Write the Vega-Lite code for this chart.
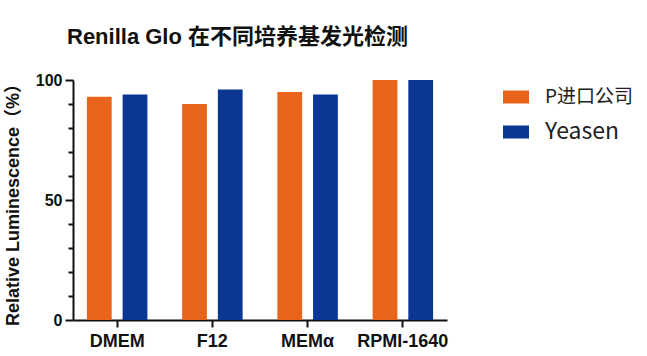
{
  "$schema": "https://vega.github.io/schema/vega-lite/v6.json",
  "width": 374,
  "height": 240,
  "autosize": "none",
  "padding": {"left": 73, "top": 80, "right": 200, "bottom": 36},
  "background": "white",
  "config": {
    "view": {"stroke": null},
    "font": "Liberation Sans, Noto Sans CJK SC"
  },
  "title": {
    "text": "Renilla Glo 在不同培养基发光检测",
    "font": "Liberation Sans, Noto Sans CJK SC",
    "fontSize": 22,
    "fontWeight": "bold",
    "color": "#111111",
    "anchor": "start",
    "frame": "group",
    "dx": -6,
    "baseline": "alphabetic",
    "offset": 6
  },
  "data": {
    "values": [
      {"medium": "DMEM", "brand": "P进口公司", "value": 93},
      {"medium": "DMEM", "brand": "Yeasen", "value": 94},
      {"medium": "F12", "brand": "P进口公司", "value": 90},
      {"medium": "F12", "brand": "Yeasen", "value": 96},
      {"medium": "MEMα", "brand": "P进口公司", "value": 95},
      {"medium": "MEMα", "brand": "Yeasen", "value": 94},
      {"medium": "RPMI-1640", "brand": "P进口公司", "value": 100},
      {"medium": "RPMI-1640", "brand": "Yeasen", "value": 100}
    ]
  },
  "resolve": {"axis": {"y": "independent"}},
  "layer": [
    {
      "mark": {"type": "bar"},
      "encoding": {
        "x": {
          "field": "medium",
          "type": "nominal",
          "sort": ["DMEM", "F12", "MEMα", "RPMI-1640"],
          "scale": {"paddingInner": 0.365, "paddingOuter": 0.146},
          "axis": {
            "title": null,
            "labelAngle": 0,
            "labelFont": "Liberation Sans",
            "labelFontSize": 18,
            "labelFontWeight": "bold",
            "labelColor": "#111111",
            "labelPadding": 5,
            "tickSize": 7,
            "tickWidth": 2,
            "tickColor": "#111111",
            "domainWidth": 2,
            "domainColor": "#111111",
            "grid": false
          }
        },
        "xOffset": {
          "field": "brand",
          "type": "nominal",
          "scale": {"paddingInner": 0.306, "paddingOuter": 0}
        },
        "y": {
          "field": "value",
          "type": "quantitative",
          "scale": {"domain": [0, 100], "nice": false},
          "axis": {
            "orient": "left",
            "title": "Relative Luminescence（%）",
            "titleFont": "Liberation Sans, Noto Sans CJK SC",
            "titleFontSize": 18,
            "titleFontWeight": "bold",
            "titleColor": "#111111",
            "titlePadding": 13,
            "values": [0, 50, 100],
            "labelFont": "Liberation Sans",
            "labelFontSize": 16,
            "labelFontWeight": "bold",
            "labelColor": "#111111",
            "labelPadding": 3,
            "tickSize": 8,
            "tickWidth": 2,
            "tickColor": "#111111",
            "domainWidth": 2,
            "domainColor": "#111111",
            "grid": false
          }
        },
        "color": {
          "field": "brand",
          "type": "nominal",
          "scale": {"domain": ["P进口公司", "Yeasen"], "range": ["#E8641B", "#0B3692"]},
          "legend": {
            "title": null,
            "orient": "none",
            "legendX": 430,
            "legendY": 4,
            "symbolType": "M-1,-0.5H1V0.5H-1Z",
            "symbolSize": 676,
            "symbolStrokeWidth": 0,
            "symbolOpacity": 1,
            "labelOffset": 16,
            "rowPadding": 12,
            "labelFont": "Noto Sans CJK SC",
            "labelFontSize": 19,
            "labelColor": "#222222",
            "encode": {
              "labels": {
                "update": {
                  "fontSize": {"signal": "datum.label === 'Yeasen' ? 23 : 19"}
                }
              }
            }
          }
        }
      }
    },
    {
      "mark": {"type": "tick", "opacity": 0},
      "encoding": {
        "y": {
          "field": "value",
          "type": "quantitative",
          "axis": {
            "orient": "left",
            "title": null,
            "values": [10, 20, 30, 40, 60, 70, 80, 90],
            "labels": false,
            "ticks": true,
            "domain": false,
            "grid": false,
            "tickSize": 5,
            "tickWidth": 2,
            "tickColor": "#111111",
            "tickOpacity": 1
          }
        }
      }
    }
  ]
}
